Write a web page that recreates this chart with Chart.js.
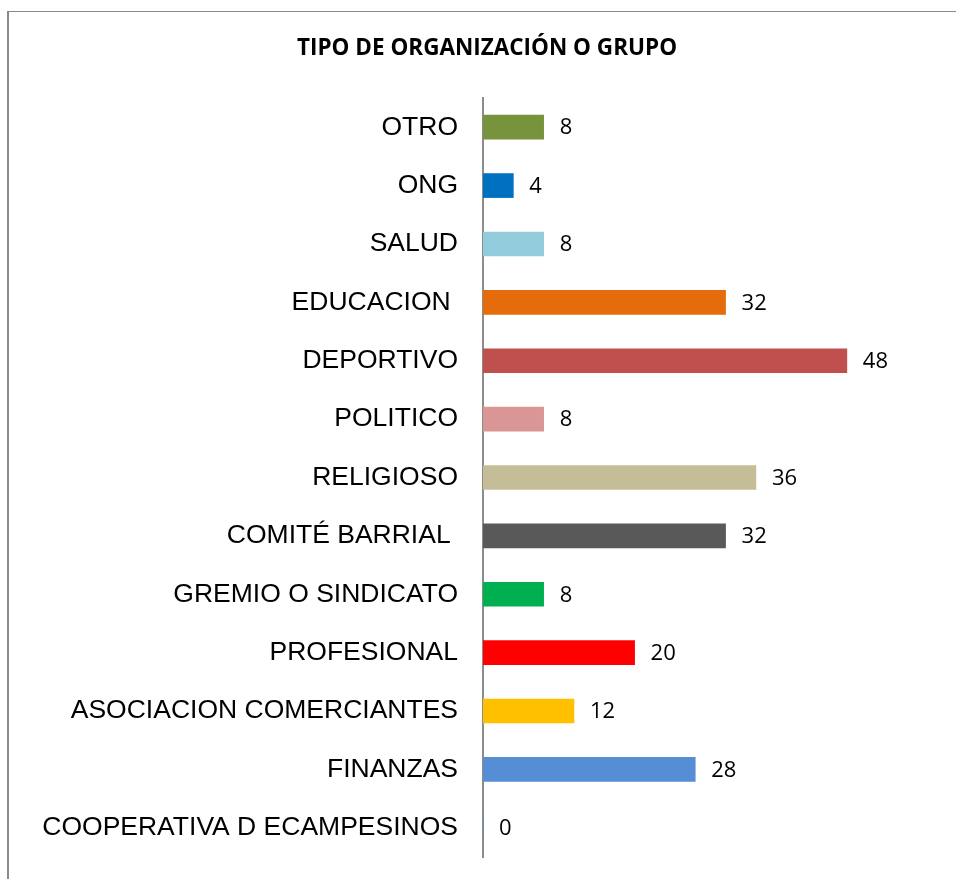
<!DOCTYPE html>
<html lang="es">
<head>
    <meta charset="UTF-8">
    <title>Tipo de organización o grupo</title>
    <script src="https://cdn.jsdelivr.net/npm/chart.js@4.4.1/dist/chart.umd.min.js"></script>
    <style>
        html, body {
            margin: 0;
            padding: 0;
            background: #ffffff;
            overflow: hidden;
        }
        .frame {
            position: absolute;
            left: 7px;
            top: 11px;
            width: 1000px;
            height: 1000px;
            border-left: 2px solid #8a8a8a;
            border-top: 1px solid #8a8a8a;
        }
        .chart-box {
            position: absolute;
            left: 0;
            top: 0;
            width: 956px;
            height: 879px;
        }
    </style>
</head>
<body>
    <div class="frame"></div>
    <div class="chart-box">
        <canvas id="chart"></canvas>
    </div>

    <script>
        // categorías de arriba hacia abajo
        const categories = [
            'OTRO', 'ONG', 'SALUD', 'EDUCACION ', 'DEPORTIVO', 'POLITICO', 'RELIGIOSO',
            'COMITÉ BARRIAL ', 'GREMIO O SINDICATO', 'PROFESIONAL',
            'ASOCIACION COMERCIANTES', 'FINANZAS', 'COOPERATIVA D ECAMPESINOS'
        ];
        const values = [8, 4, 8, 32, 48, 8, 36, 32, 8, 20, 12, 28, 0];
        const barColors = [
            '#77933C', '#0070C0', '#93CDDD', '#E46C0A', '#C0504D', '#D99694', '#C4BD97',
            '#595959', '#00B050', '#FF0000', '#FFC000', '#558ED5', '#4F81BD'
        ];

        // etiquetas de valor al final de cada barra
        const valueLabels = {
            id: 'valueLabels',
            afterDatasetsDraw(chart) {
                const ctx = chart.ctx;
                const meta = chart.getDatasetMeta(0);
                ctx.save();
                ctx.font = '22px "Open Sans", sans-serif';
                ctx.fillStyle = '#000000';
                ctx.textAlign = 'left';
                ctx.textBaseline = 'middle';
                meta.data.forEach((bar, i) => {
                    ctx.fillText(String(values[i]), bar.x + 16, bar.y + 1);
                });
                ctx.restore();
            }
        };

        new Chart(document.getElementById('chart').getContext('2d'), {
            type: 'bar',
            data: {
                labels: categories,
                datasets: [{
                    data: values,
                    backgroundColor: barColors,
                    barThickness: 24,
                    borderWidth: 0
                }]
            },
            options: {
                indexAxis: 'y',
                responsive: true,
                maintainAspectRatio: false,
                animation: false,
                layout: {
                    padding: { top: 24, bottom: 22, left: 18, right: 0 }
                },
                plugins: {
                    legend: { display: false },
                    tooltip: { enabled: false },
                    title: {
                        display: true,
                        text: 'TIPO DE ORGANIZACIÓN O GRUPO',
                        color: '#000000',
                        font: { family: '"Open Sans", sans-serif', size: 22.5, weight: 'bold' },
                        padding: { top: 11, bottom: 36 }
                    }
                },
                scales: {
                    x: {
                        display: false,
                        min: 0,
                        max: 62.4
                    },
                    y: {
                        afterFit(scale) { scale.width = 465; },
                        grid: { display: false, drawTicks: true, tickLength: 25 },
                        border: { display: true, color: '#8c8c8c', width: 2 },
                        ticks: {
                            color: '#000000',
                            padding: 0,
                            font: { family: '"Liberation Sans", Arial, sans-serif', size: 26.5 }
                        }
                    }
                }
            },
            plugins: [valueLabels]
        });
    </script>
</body>
</html>
